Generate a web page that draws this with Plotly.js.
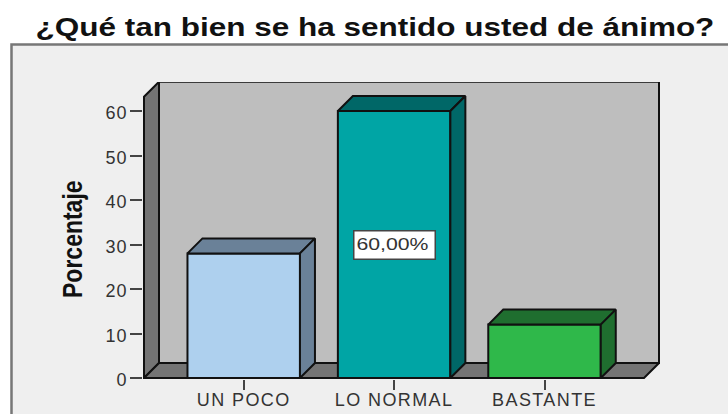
<!DOCTYPE html>
<html>
<head>
<meta charset="utf-8">
<script src="https://cdn.plot.ly/plotly-3.0.1.min.js"></script>
<style>
html,body{margin:0;padding:0;background:#fff;overflow:hidden}
#chart{width:728px;height:414px}
.gtitle{transform-box:fill-box;transform-origin:center;transform:scaleX(1.26)}
.xtick text{letter-spacing:1.4px}
.ytick text{letter-spacing:.9px;translate:1px 2px}
.annotation[data-index="0"] .annotation-text{transform-box:fill-box;transform-origin:center;transform:scaleY(1.22)}
.annotation[data-index="1"] .annotation-text{transform-box:fill-box;transform-origin:center;transform:scaleX(1.25);translate:-2px 0}
</style>
</head>
<body>
<div id="chart"></div>
<script>
var categories = ["UN POCO", "LO NORMAL", "BASTANTE"];
var percentages = [28, 60, 12];
var labels = [null, "60,00%", null];
var yTicks = [0, 10, 20, 30, 40, 50, 60];
var frontColors = ["#aed0ee", "#00a5a5", "#2fb84a"];
var sideColors = ["#6a8198", "#006767", "#1f6e2f"];
var titleText = "¿Qué tan bien se ha sentido usted de ánimo?";
var yTitle = "Porcentaje";

var ink = "#111111";
var pxX = 150.4, pxY = 4.45;
var depthX = 15 / pxX, depthY = 15 / pxY;
var barW = 0.748;
var xFront0 = -0.663, xFront1 = xFront0 + 500 / pxX;
var yFrontTop = 63.2;
var W = 728, H = 414;
var m = {l: 143, r: 68, t: 82, b: 35};
var plotW = W - m.l - m.r, plotH = H - m.t - m.b;
var xRange = [xFront0 - 1 / pxX, xFront0 - 1 / pxX + plotW / pxX];
var yRange = [-1 / pxY, -1 / pxY + plotH / pxY];

function polyPath(pts) {
  return "M" + pts.map(function (p) { return p[0] + "," + p[1]; }).join("L") + "Z";
}
function wall(pts, color) {
  return {type: "path", layer: "below", xref: "x", yref: "y", path: polyPath(pts),
          fillcolor: color, line: {color: ink, width: 2}};
}
function paperX(px) { return (px - m.l) / plotW; }
function paperY(py) { return 1 - (py - m.t) / plotH; }

var shapes = [
  {type: "rect", layer: "below", xref: "paper", yref: "paper",
   x0: paperX(11.5), x1: paperX(760), y0: paperY(44.5), y1: paperY(450),
   fillcolor: "#efefef", line: {color: "#777777", width: 2.5}},
  wall([[xFront0 + depthX, depthY], [xFront1 + depthX, depthY],
        [xFront1 + depthX, yFrontTop + depthY], [xFront0 + depthX, yFrontTop + depthY]], "#bebebe"),
  wall([[xFront0, 0], [xFront0 + depthX, depthY],
        [xFront0 + depthX, yFrontTop + depthY], [xFront0, yFrontTop]], "#747474"),
  wall([[xFront0, 0], [xFront1, 0], [xFront1 + depthX, depthY], [xFront0 + depthX, depthY]], "#747474")
];

var traces = [{
  type: "bar",
  x: categories.map(function (c, i) { return i; }),
  y: percentages,
  width: barW,
  marker: {color: frontColors, line: {color: ink, width: 2}},
  hoverinfo: "skip",
  showlegend: false
}];

percentages.forEach(function (v, i) {
  var a = i - barW / 2, b = i + barW / 2;
  var faces = [
    [[a, v], [b, v], [b + depthX, v + depthY], [a + depthX, v + depthY], [a, v]],
    [[b, 0], [b + depthX, depthY], [b + depthX, v + depthY], [b, v], [b, 0]]
  ];
  faces.forEach(function (f) {
    traces.push({
      type: "scatter", mode: "lines", fill: "toself",
      x: f.map(function (p) { return p[0]; }),
      y: f.map(function (p) { return p[1]; }),
      fillcolor: sideColors[i],
      line: {color: ink, width: 2},
      hoverinfo: "skip", showlegend: false
    });
  });
});

var annotations = [{
  xref: "paper", yref: "paper", x: paperX(72), y: paperY(239),
  xanchor: "center", yanchor: "middle",
  text: yTitle, textangle: -90, showarrow: false,
  font: {family: "Liberation Sans, Arial, sans-serif", size: 23, color: "#111111", weight: 700}
}];
labels.forEach(function (t, i) {
  if (t === null) return;
  annotations.push({
    xref: "x", yref: "y", x: i, y: percentages[i] / 2, text: t, showarrow: false,
    width: 73, height: 20, align: "center", valign: "middle",
    bgcolor: "#ffffff", bordercolor: "#444444", borderwidth: 1.5, borderpad: 3.5,
    font: {family: "Liberation Sans, Arial, sans-serif", size: 17, color: "#333333"}
  });
});

var layout = {
  width: W, height: H, margin: m,
  paper_bgcolor: "#ffffff", plot_bgcolor: "rgba(0,0,0,0)",
  showlegend: false, bargap: 0,
  title: {text: titleText, xref: "container", yref: "container", x: 375 / W, y: 1 - 27 / H,
          xanchor: "center", yanchor: "middle",
          font: {family: "Liberation Sans, Arial, sans-serif", size: 25, color: "#111111", weight: 700}},
  xaxis: {range: xRange, tickmode: "array", tickvals: categories.map(function (c, i) { return i; }),
          ticktext: categories, ticks: "outside", ticklen: 10, tickwidth: 2, tickcolor: "#444444",
          ticklabelstandoff: -6,
          showgrid: false, zeroline: false, showline: false,
          tickfont: {family: "Liberation Sans, Arial, sans-serif", size: 18, color: "#333333"}},
  yaxis: {range: yRange, tickmode: "array", tickvals: yTicks, ticks: "outside", ticklen: 12,
          tickwidth: 2, tickcolor: "#444444", showgrid: false, zeroline: false, showline: false,
          tickfont: {family: "Liberation Sans, Arial, sans-serif", size: 18, color: "#333333"}},
  shapes: shapes, annotations: annotations
};

Plotly.newPlot("chart", traces, layout, {displayModeBar: false, staticPlot: true});
</script>
</body>
</html>
